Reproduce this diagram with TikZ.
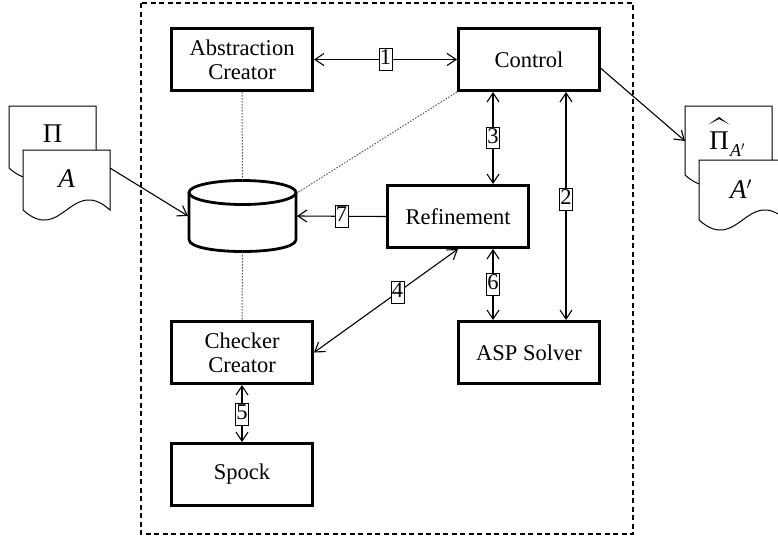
\documentclass[tikz,border=0pt]{standalone}
\usepackage{fontspec}
\setmainfont{Liberation Serif}
\usepackage{amsmath}
\usetikzlibrary{arrows.meta}
\begin{document}
\begin{tikzpicture}[x=1pt,y=-1pt,
  every node/.style={font=\fontsize{22.5}{24}\selectfont},
  blk/.style={draw, line width=3pt, minimum width=141pt, minimum height=62pt, align=center, inner sep=0pt},
  tip/.tip={Straight Barb[length=9pt,width=12pt]},
  conn/.style={line width=1.1pt, tip-tip},
  conn1/.style={line width=1.1pt, -tip},
  num/.style={draw, line width=0.8pt, fill=white, inner sep=0.8pt, text height=15pt, text depth=5pt},
  dots/.style={draw=black!65, line width=1pt, dash pattern=on 1.5pt off 1.5pt},
  doc/.style={draw, fill=white, line width=1pt},
  doclbl/.style={font=\fontsize{27}{30}\selectfont, inner sep=0pt},
  sublbl/.style={font=\fontsize{18}{20}\selectfont\itshape, inner sep=0pt}]
\useasboundingbox (0,0) rectangle (778,539);
\clip (0,0) rectangle (778,539);
% frame
\draw[line width=1.2pt, dash pattern=on 5pt off 3.5pt] (141,3) rectangle (633,534);
% boxes
\node[blk] (abs) at (242,59.5) {Abstraction\\Creator};
\node[blk] (ctrl) at (529,59.5) {Control};
\node[blk] (ref) at (458,216.5) {Refinement};
\node[blk] (asp) at (529,352.5) {ASP Solver};
\node[blk] (chk) at (242,352.5) {Checker\\Creator};
\node[blk] (spock) at (242,474.5) {Spock};
% database
\node[minimum width=109pt, minimum height=72pt, inner sep=0pt, outer sep=0pt] (db) at (242.5,216) {};
\draw[line width=2.8pt, fill=white] (189,192.5) -- (189,239.5) .. controls (189,255.5) and (296,255.5) .. (296,239.5) -- (296,192.5);
\draw[line width=2.8pt] (242.5,192.5) ellipse [x radius=53.5pt, y radius=12pt];
% dotted relations
\draw[dots] (abs.south) -- (db.north);
\draw[dots] (db.south) -- (chk.north);
\draw[dots] (ctrl.south west) -- ([yshift=-13pt]db.north east);
% connectors
\draw[conn] (abs.east) -- node[num]{1} (ctrl.west);
\draw[conn] ([xshift=-36pt]ctrl.south) -- node[num]{3} ([xshift=35pt]ref.north);
\draw[conn] ([xshift=37pt]ctrl.south) -- node[num,pos=0.47]{2} ([xshift=37pt]asp.north);
\draw[conn] ([xshift=35pt]ref.south) -- node[num]{6} ([xshift=-36pt]asp.north);
\draw[conn1] (ref.west) -- node[num]{7} (db.east);
\draw[conn] (chk.east) -- node[num,pos=0.58]{4} (ref.south);
\draw[conn] (chk.south) -- node[num,pos=0.52]{5} (spock.north);
% input documents
\draw[doc] (9,106) -- (9,168) .. controls (48,203) and (57,133) .. (96,168) -- (96,106) -- cycle;
\node[doclbl] (pi) at (52.5,134) {Π};
\draw[doc] (23,150) -- (23,210) .. controls (62,245) and (71,175) .. (110,210) -- (110,150) -- cycle;
\node[doclbl] (a) at (66.5,179) {\itshape A};
\coordinate (aout) at (110,168);
\draw[conn1] (aout) -- (db.west);
% output documents
\draw[doc] (685,106) -- (685,175) .. controls (724,210) and (733,140) .. (772,175) -- (772,106) -- cycle;
\node[doclbl] (pihat) at (719,141) {Π};
\fill (708.5,124.5) -- (719,117) -- (729.5,124.5) -- (719,119) -- cycle;
\node[sublbl, anchor=west] (pisub) at (730,150) {A$'$};
\draw[doc] (699,160) -- (699,220) .. controls (738,255) and (747,185) .. (786,220) -- (786,160) -- cycle;
\node[doclbl] (ap) at (741,189) {\itshape A$'$};
\coordinate (pin) at (685,141);
\draw[conn1] ([yshift=-9pt]ctrl.east) -- (pin);
\end{tikzpicture}
\end{document}
